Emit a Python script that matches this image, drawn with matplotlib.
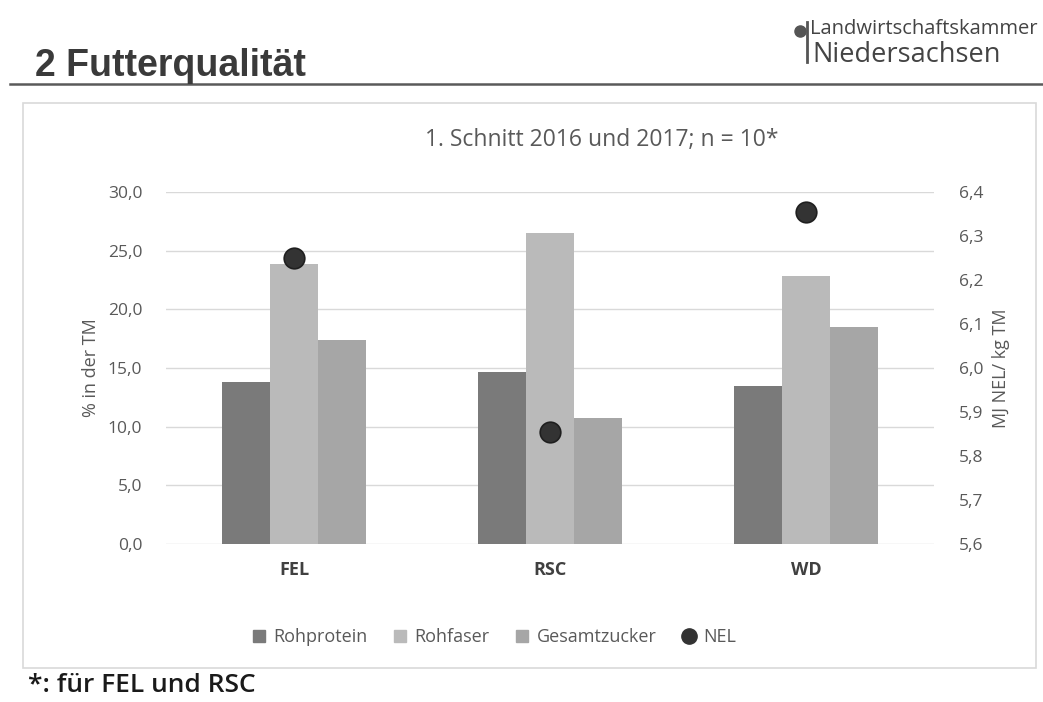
import matplotlib
matplotlib.use("Agg")
import matplotlib.pyplot as plt
from matplotlib.lines import Line2D
from matplotlib.patches import Rectangle
import numpy as np

# --- data -------------------------------------------------------------
categories = ["FEL", "RSC", "WD"]
rohprotein = [13.8, 14.7, 13.5]
rohfaser = [23.9, 26.5, 22.8]
gesamtzucker = [17.4, 10.7, 18.5]
nel = [6.25, 5.855, 6.355]

left_ticks = [0, 5, 10, 15, 20, 25, 30]
right_ticks = [5.6, 5.7, 5.8, 5.9, 6.0, 6.1, 6.2, 6.3, 6.4]

series_names = ["Rohprotein", "Rohfaser", "Gesamtzucker", "NEL"]
bar_colors = ["#7a7a7a", "#bababa", "#a6a6a6"]
nel_color = "#333333"

# --- figure -----------------------------------------------------------
W, H = 1043, 702
fig = plt.figure(figsize=(W / 100, H / 100), dpi=100)
fig.patch.set_facecolor("white")

FONT = ["Open Sans", "DejaVu Sans"]
GREY_TXT = "#595959"


def fx(x):
    return x / W


def fy(y):
    return 1 - y / H


# header
fig.text(fx(35), fy(76), "2 Futterqualität", fontsize=27, fontweight="bold",
         family=["Liberation Sans Narrow", "Liberation Sans", "DejaVu Sans"],
         color="#3a3a3a", ha="left", va="baseline")
fig.add_artist(Line2D([fx(10), fx(1043)], [fy(84), fy(84)], color="#5a5a5a",
                      lw=1.8, transform=fig.transFigure))

# logo
fig.add_artist(Line2D([fx(800)], [fy(31)], marker="o", ms=8, color="#555555",
                      transform=fig.transFigure))
fig.add_artist(Line2D([fx(807), fx(807)], [fy(22), fy(62)], color="#555555",
                      lw=2, transform=fig.transFigure))
fig.text(fx(810), fy(34), "Landwirtschaftskammer", fontsize=14.5,
         family=["Open Sans", "DejaVu Sans"],
         color="#444444", ha="left", va="baseline")
fig.text(fx(812), fy(62), "Niedersachsen", fontsize=19.5,
         family=["Open Sans", "DejaVu Sans"], color="#444444",
         ha="left", va="baseline")

# chart frame
fig.add_artist(Rectangle((fx(23), fy(668)), fx(1036) - fx(23), fy(103) - fy(668),
                         transform=fig.transFigure, fill=False,
                         edgecolor="#d9d9d9", lw=1.2))

# --- axes -------------------------------------------------------------
ax_left, ax_right = 166, 934
ax = fig.add_axes([fx(ax_left), fy(544), fx(ax_right) - fx(ax_left), fy(192) - fy(544)])
ax2 = ax.twinx()

x = np.arange(len(categories))
bw = 0.1875
for i, (vals, col) in enumerate(zip([rohprotein, rohfaser, gesamtzucker], bar_colors)):
    ax.bar(x + (i - 1) * bw, vals, width=bw, color=col, zorder=3,
           label=series_names[i])

ax2.scatter(x, nel, s=220, color=nel_color, edgecolors="#1f1f1f",
            linewidths=1.2, zorder=4, label="NEL")

ax.set_xlim(-0.5, len(categories) - 0.5)
ax.set_ylim(0, 30)
ax2.set_ylim(5.6, 6.4)

ax.set_yticks(left_ticks)
ax.set_yticklabels([f"{v:.1f}".replace(".", ",") for v in left_ticks])
ax2.set_yticks(right_ticks)
ax2.set_yticklabels([f"{v:.1f}".replace(".", ",") for v in right_ticks])

ax.set_xticks(x)
ax.set_xticklabels(categories)

ax.grid(axis="y", color="#d9d9d9", lw=1, zorder=0)
ax.set_axisbelow(True)
for a in (ax, ax2):
    for s in a.spines.values():
        s.set_visible(False)
    a.tick_params(length=0)

for lbl in ax.get_yticklabels() + ax2.get_yticklabels():
    lbl.set_family(FONT)
    lbl.set_fontsize(12.5)
    lbl.set_color(GREY_TXT)
for lbl in ax.get_xticklabels():
    lbl.set_family(FONT)
    lbl.set_fontsize(13)
    lbl.set_fontweight("bold")
    lbl.set_color("#404040")

ax.tick_params(axis="y", pad=17)
ax2.tick_params(axis="y", pad=18)
ax.tick_params(axis="x", pad=12)

ax.set_ylabel("% in der TM", family=FONT, fontsize=13, color=GREY_TXT, labelpad=6)
ax2.set_ylabel("MJ NEL/ kg TM", family=FONT, fontsize=13, color=GREY_TXT,
               rotation=90, labelpad=6)

title_cx = (602 - ax_left) / (ax_right - ax_left)
ax.set_title("1. Schnitt 2016 und 2017; n = 10*", family=FONT, fontsize=16.5,
             color=GREY_TXT, pad=33, x=title_cx)

# legend
handles = [Line2D([], [], marker="s", ls="", ms=9, color=c) for c in bar_colors]
handles.append(Line2D([], [], marker="o", ls="", ms=11, color=nel_color))
fig.legend(handles, series_names, loc="center", bbox_to_anchor=(fx(493), fy(637)),
           ncol=4, frameon=False, prop={"family": FONT, "size": 13},
           labelcolor=GREY_TXT, handletextpad=0.3, columnspacing=1.3,
           handlelength=1.0)

# footnote
fig.text(fx(28), fy(692), "*: für FEL und RSC", fontsize=19, fontweight="semibold",
         family=["Open Sans", "DejaVu Sans"], color="#1a1a1a",
         ha="left", va="baseline")

fig.savefig("out.png", dpi=100, facecolor="white")
